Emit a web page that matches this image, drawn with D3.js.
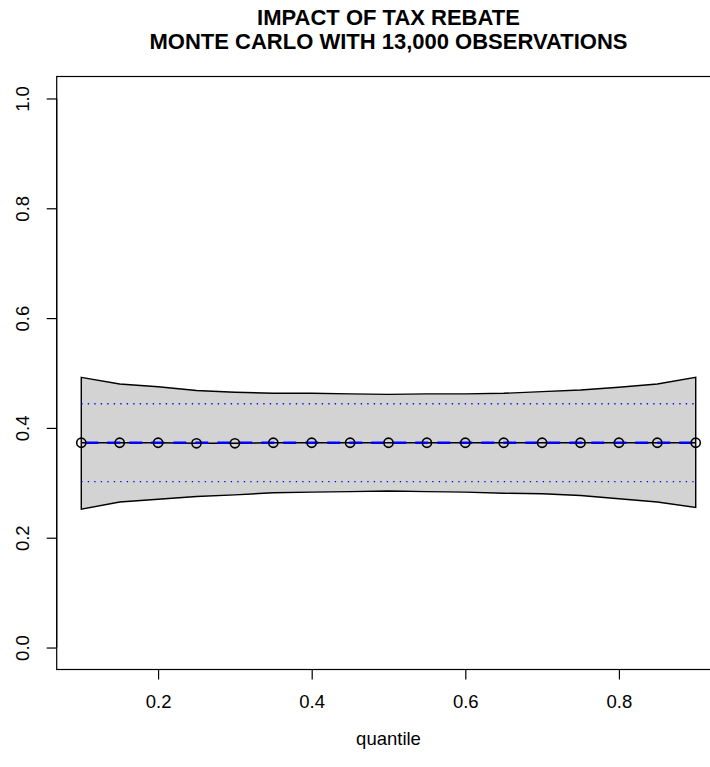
<!DOCTYPE html>
<html><head><meta charset="utf-8">
<script src="https://cdn.jsdelivr.net/npm/d3@7"></script>
<style>body{margin:0;background:#fff}svg{display:block}text{font-family:"Liberation Sans",Arial,sans-serif}</style>
</head><body>
<script>
const quantiles = [0.10,0.15,0.20,0.25,0.30,0.35,0.40,0.45,0.50,0.55,0.60,0.65,0.70,0.75,0.80,0.85,0.90];
const estimate  = [0.373,0.373,0.373,0.372,0.372,0.373,0.373,0.373,0.373,0.373,0.373,0.373,0.373,0.373,0.373,0.373,0.373];
const upperBand = [0.492,0.480,0.475,0.468,0.465,0.463,0.463,0.462,0.461,0.462,0.462,0.463,0.466,0.469,0.474,0.480,0.492];
const lowerBand = [0.252,0.265,0.270,0.275,0.278,0.282,0.283,0.284,0.285,0.284,0.283,0.281,0.280,0.277,0.271,0.265,0.255];
const olsEstimate = 0.373;
const olsUpper = 0.444;
const olsLower = 0.302;
const xTicks = [0.2,0.4,0.6,0.8];
const yTicks = [0.0,0.2,0.4,0.6,0.8,1.0];
const titleLines = ["IMPACT OF TAX REBATE","MONTE CARLO WITH 13,000 OBSERVATIONS"];
const xLabel = "quantile";

const W=710,H=767;
const L=56.7,R=720.3,T=76.5,B=669.5;
const FS=18.5;
const svg=d3.select("body").append("svg").attr("width",W).attr("height",H);
const xr=0.8*0.04;
const x=d3.scaleLinear().domain([0.1-xr,0.9+xr]).range([L,R]);
const y=d3.scaleLinear().domain([-0.04,1.04]).range([B,T]);

// band polygon
const poly=quantiles.map((q,i)=>[x(q),y(upperBand[i])]).concat(quantiles.map((q,i)=>[x(q),y(lowerBand[i])]).reverse());
svg.append("path").attr("d","M"+poly.map(p=>p.join(",")).join("L")+"Z")
  .attr("fill","#d3d3d3").attr("stroke","#000").attr("stroke-width",1.4);

// dotted ols bounds
[olsUpper,olsLower].forEach(v=>{
  svg.append("line").attr("x1",x(quantiles[0])).attr("x2",x(quantiles[quantiles.length-1]))
    .attr("y1",y(v)).attr("y2",y(v)).attr("stroke","#0000ff").attr("stroke-width",1.3)
    .attr("stroke-dasharray","1.3,5.2");
});

// estimate line with circles
const line=d3.line().x((d,i)=>x(quantiles[i])).y(d=>y(d));
svg.append("path").attr("d",line(estimate)).attr("fill","none").attr("stroke","#000").attr("stroke-width",1.4);
svg.append("line").attr("x1",x(quantiles[0])).attr("x2",x(quantiles[quantiles.length-1]))
  .attr("y1",y(olsEstimate)).attr("y2",y(olsEstimate)).attr("stroke","#0000ff").attr("stroke-width",2.6)
  .attr("stroke-dasharray","13,9").attr("stroke-dashoffset",-4);
svg.selectAll("circle.pt").data(estimate).enter().append("circle")
  .attr("cx",(d,i)=>x(quantiles[i])).attr("cy",d=>y(d)).attr("r",4.6)
  .attr("fill","none").attr("stroke","#000").attr("stroke-width",1.6);

// box
svg.append("rect").attr("x",L).attr("y",T).attr("width",R-L).attr("height",B-T)
  .attr("fill","none").attr("stroke","#000").attr("stroke-width",1.2);

// x axis
const xa=svg.append("g").attr("transform",`translate(0,${B})`)
  .call(d3.axisBottom(x).tickValues(xTicks).tickSize(10).tickPadding(15).tickFormat(d3.format(".1f")));
xa.select(".domain").attr("d",`M${x(xTicks[0])},0H${x(xTicks[xTicks.length-1])}`).attr("stroke-width",1.2);
xa.selectAll("text").attr("font-size",FS).attr("font-family","Liberation Sans, Arial, sans-serif").attr("fill","#000");
xa.selectAll(".tick line").attr("stroke-width",1.2);

// y axis
const ya=svg.append("g").attr("transform",`translate(${L},0)`)
  .call(d3.axisLeft(y).tickValues(yTicks).tickSize(10).tickFormat(d3.format(".1f")));
ya.select(".domain").attr("d",`M0,${y(0)}V${y(1)}`).attr("stroke-width",1.2);
ya.selectAll(".tick line").attr("stroke-width",1.2);
ya.selectAll("text").remove();
ya.selectAll(".tick").append("text").attr("transform","translate(-34,0) rotate(-90)")
  .attr("text-anchor","middle").attr("dy","0.35em").attr("font-size",FS).attr("fill","#000")
  .attr("font-family","Liberation Sans, Arial, sans-serif")
  .text(d=>d3.format(".1f")(d));

// title
titleLines.forEach((t,i)=>{
  svg.append("text").attr("x",(L+R)/2).attr("y",24.5+i*24).attr("text-anchor","middle")
    .attr("font-size",22).attr("font-weight","bold").text(t);
});
svg.append("text").attr("x",(L+R)/2).attr("y",745).attr("text-anchor","middle").attr("font-size",FS).text(xLabel);
</script>
</body></html>
